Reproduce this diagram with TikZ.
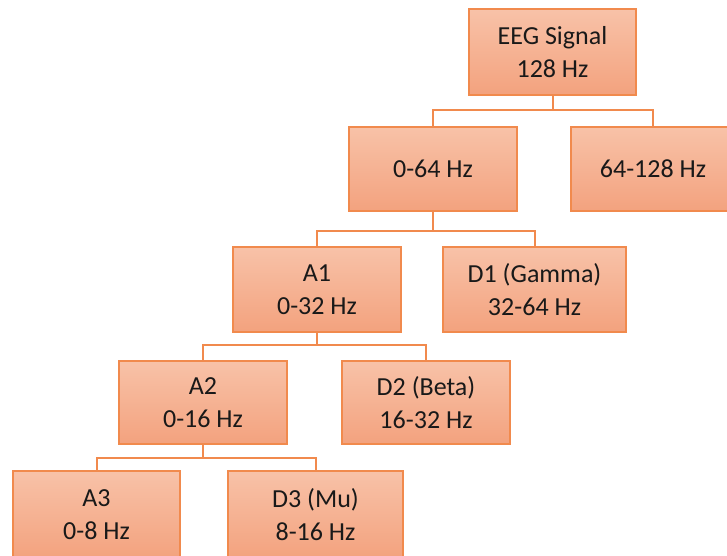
\documentclass[tikz,border=0pt]{standalone}
\usepackage{fontspec}
\setmainfont{Carlito}
\definecolor{boxtop}{RGB}{248,194,168}
\definecolor{boxbot}{RGB}{243,162,126}
\definecolor{boxline}{RGB}{241,138,77}

\begin{document}
\begin{tikzpicture}[x=1pt,y=-1pt,
  band/.style={draw=boxline, line width=2pt, top color=boxtop, bottom color=boxbot,
    inner sep=0pt, align=center, text=black!90,
    font=\fontsize{26}{33}\selectfont},
  link/.style={draw=boxline, line width=2pt}]
\clip (0,0) rectangle (727,555);
\node[band, minimum width=167, minimum height=86] (eeg) at (552.5,52) {EEG Signal\\128 Hz};
\node[band, minimum width=168, minimum height=84] (low) at (433,169) {0-64 Hz};
\node[band, minimum width=164, minimum height=84] (high) at (653,169) {64-128 Hz};
\node[band, minimum width=168, minimum height=85] (a1) at (317,289.5) {A1\\0-32 Hz};
\node[band, minimum width=183, minimum height=85] (d1) at (534.5,289.5) {D1 (Gamma)\\32-64 Hz};
\node[band, minimum width=168, minimum height=83] (a2) at (203,402.5) {A2\\0-16 Hz};
\node[band, minimum width=168, minimum height=83] (d2) at (426,402.5) {D2 (Beta)\\16-32 Hz};
\node[band, minimum width=167, minimum height=88] (a3) at (96.5,515) {A3\\0-8 Hz};
\node[band, minimum width=175, minimum height=88] (d3) at (315.5,515) {D3 (Mu)\\8-16 Hz};
% tree links
\draw[link] (eeg.south) -- (eeg.south |- 0,110);
\draw[link] (low.north) |- (eeg.south |- 0,110) -| (high.north);
\draw[link] (low.south) -- (low.south |- 0,231);
\draw[link] (a1.north) |- (low.south |- 0,231) -| (d1.north);
\draw[link] (a1.south) -- (a1.south |- 0,345);
\draw[link] (a2.north) |- (a1.south |- 0,345) -| (d2.north);
\draw[link] (a2.south) -- (a2.south |- 0,458);
\draw[link] (a3.north) |- (a2.south |- 0,458) -| (d3.north);
\end{tikzpicture}
\end{document}
